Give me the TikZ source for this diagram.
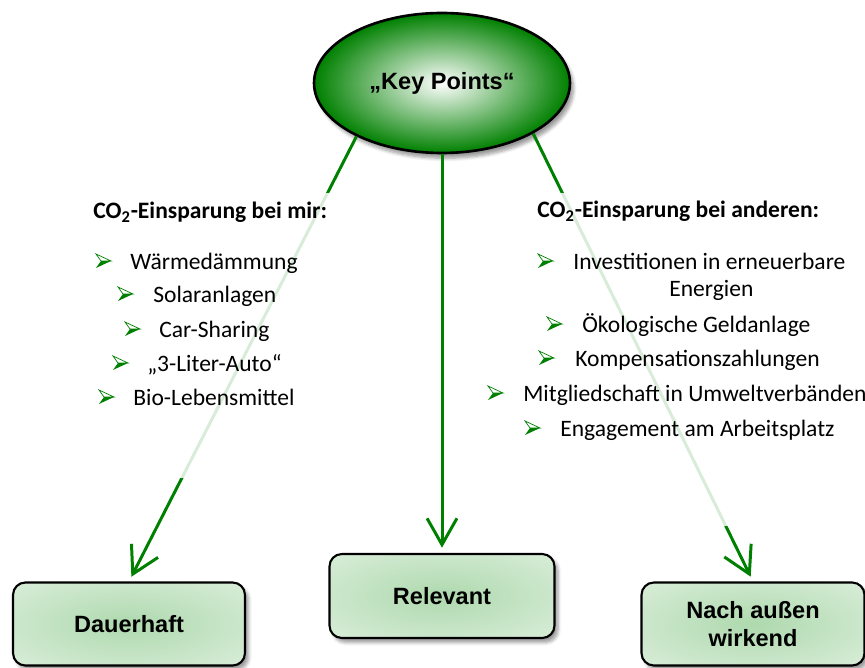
\documentclass[tikz,border=0pt]{standalone}
\usepackage{fontspec}
\setmainfont{Carlito}
\newfontfamily\labelfont{Liberation Sans}
\usetikzlibrary{shapes.geometric,arrows.meta,shadows.blur}
\definecolor{leafgreen}{RGB}{0,128,0}
\definecolor{boxmid}{RGB}{174,217,174}
\definecolor{boxrim}{RGB}{234,245,234}
\pgfdeclareradialshading{boxglow}{\pgfpoint{0bp}{0bp}}{color(0bp)=(boxmid); color(50bp)=(boxrim)}
\tikzset{
    keyoval/.style = {ellipse, draw, line width=1.5pt, minimum width=5.12cm, minimum height=2.8cm,
        inner color=white, outer color=leafgreen,
        blur shadow={shadow xshift=2pt, shadow yshift=-3pt, shadow blur steps=6},
        font=\labelfont\bfseries\fontsize{13.4}{16}\selectfont},
    goalbox/.style = {draw, line width=1.2pt, rounded corners=7pt, minimum height=1.66cm,
        shading=boxglow, align=center,
        blur shadow={shadow xshift=2pt, shadow yshift=-2.5pt, shadow blur steps=5},
        font=\labelfont\bfseries\fontsize{13.4}{16}\selectfont},
    link/.style = {leafgreen, line width=1.7pt, -{Straight Barb[length=15pt, width=17pt]}, shorten >=3pt},
    item/.style = {anchor=base west, inner sep=0pt, font=\fontsize{13.4}{16}\selectfont},
    heading/.style = {item, font=\bfseries\fontsize{13.4}{16}\selectfont},
    bulletarrow/.pic = {
        \fill [leafgreen] (5,0) -- (15,0) -- (0,7) -- cycle;
        \filldraw [fill=white, draw=leafgreen, line width=0.4pt] (0,-7) -- (15,0) -- (5,0) -- cycle;
    }
}
\begin{document}
\begin{tikzpicture}[x=0.02cm, y=-0.02cm]
    \useasboundingbox (0,0) rectangle (865,668);
    \node [keyoval] (keypts) at (442,83) {„Key Points“};
    \node [goalbox, minimum width=4.64cm] (dauer) at (129,624) {Dauerhaft};
    \node [goalbox, minimum width=4.5cm, minimum height=1.68cm] (relev) at (442,596) {Relevant};
    \node [goalbox, minimum width=4.46cm] (nach) at (753,624) {Nach außen\\wirkend};
    \draw [link] (keypts.212) -- (dauer.north);
    \draw [link] (keypts.south) -- (relev.north);
    \draw [link] (keypts.331) -- (nach.north);
    \fill [white, opacity=0.85] (80,193) rectangle (345,478);
    \fill [white, opacity=0.85] (480,193) rectangle (870,526);
    \node [heading] (mirhead) at (93,219) {CO\textsubscript{2}-Einsparung bei mir:};
    \node [heading] (andhead) at (537,218) {CO\textsubscript{2}-Einsparung bei anderen:};
    \foreach \bx/\tx/\by/\txt [count=\i] in {96/130/270/Wärmedämmung, 118/153/303/Solaranlagen,
        125/159/338/Car-Sharing, 113/147/372/„3-Liter-Auto“, 99/133/406/Bio-Lebensmittel} {
        \pic at (\bx,\by-9) {bulletarrow};
        \node [item] (mir\i) at (\tx,\by) {\txt};
    }
    \foreach \bx/\tx/\by/\txt [count=\i] in {538/573/270/Investitionen in erneuerbare,
        547/582/333/Ökologische Geldanlage, 539/575/367/Kompensationszahlungen,
        488/523/402/Mitgliedschaft in Umweltverbänden, 525/560/437/Engagement am Arbeitsplatz} {
        \pic at (\bx,\by-9) {bulletarrow};
        \node [item] (and\i) at (\tx,\by) {\txt};
    }
    \node [item] (and1b) at (669,297) {Energien};
\end{tikzpicture}
\end{document}
